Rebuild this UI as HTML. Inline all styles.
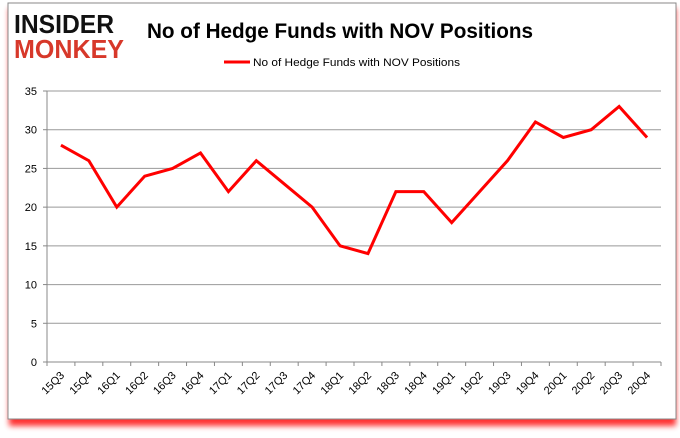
<!DOCTYPE html>
<html><head><meta charset="utf-8"><style>
body{margin:0;background:#fff;width:680px;height:433px;overflow:hidden;font-family:"Liberation Sans",sans-serif}
</style></head><body>
<svg width="680" height="433" xmlns="http://www.w3.org/2000/svg">
<defs><filter id="sh" x="-5%" y="-5%" width="110%" height="115%"><feGaussianBlur stdDeviation="3"/></filter></defs>
<rect x="9" y="8" width="667" height="418" fill="#f00" opacity="0.8" filter="url(#sh)"/>
<rect x="8" y="3" width="668" height="416" fill="#fff" stroke="#888" stroke-width="1"/>
<text x="14" y="33" font-family="Liberation Sans,sans-serif" font-weight="bold" font-size="26" fill="#111" textLength="100" lengthAdjust="spacingAndGlyphs">INSIDER</text>
<text x="14" y="58" font-family="Liberation Sans,sans-serif" font-weight="bold" font-size="26" fill="#d7382a" textLength="110" lengthAdjust="spacingAndGlyphs">MONKEY</text>
<text x="147" y="38" font-weight="bold" font-size="21" fill="#000" textLength="386" lengthAdjust="spacingAndGlyphs">No of Hedge Funds with NOV Positions</text>
<line x1="224" y1="62" x2="250" y2="62" stroke="#f00" stroke-width="3"/>
<text x="253" y="66" font-size="11" fill="#000" textLength="207" lengthAdjust="spacingAndGlyphs">No of Hedge Funds with NOV Positions</text>
<g id="g"></g>
</svg>
<script>
const categories=["15Q3","15Q4","16Q1","16Q2","16Q3","16Q4","17Q1","17Q2","17Q3","17Q4","18Q1","18Q2","18Q3","18Q4","19Q1","19Q2","19Q3","19Q4","20Q1","20Q2","20Q3","20Q4"];
const values=[28,26,20,24,25,27,22,26,23,20,15,14,22,22,18,22,26,31,29,30,33,29];
const yTicks=[0,5,10,15,20,25,30,35];
const L=47,R=661,T=91,B=362,yMax=35;
const ns="http://www.w3.org/2000/svg",g=document.getElementById('g');
const bw=(R-L)/categories.length;
const X=i=>L+bw*(i+0.5), Y=v=>B-(v/yMax)*(B-T);
function mk(t,a){const e=document.createElementNS(ns,t);for(const k in a)e.setAttribute(k,a[k]);g.appendChild(e);return e;}
yTicks.forEach(v=>{
 const l=mk('line',{x1:L,x2:R,y1:Y(v),y2:Y(v),stroke:v===0?'#888':'#999','stroke-width':1});
 
 
 const tk=mk('line',{x1:L-4,x2:L,y1:Y(v),y2:Y(v),stroke:'#888'});
 
 
 const t=mk('text',{x:L-10,y:Y(v)+4,'text-anchor':'end','font-size':11,fill:'#000'});
 t.textContent=v;
 
 
});
const ax=mk('line',{x1:L,x2:L,y1:T,y2:B,stroke:'#888'});


for(let i=0;i<=categories.length;i++){
 const tk=mk('line',{x1:L+bw*i,x2:L+bw*i,y1:B,y2:B+4,stroke:'#888'});
 
 
}
categories.forEach((c,i)=>{
 const x=X(i)+4,y=B+14;
 const t=mk('text',{x:x,y:y,'text-anchor':'end','font-size':11,fill:'#000',transform:`rotate(-45 ${x} ${y})`});
 t.textContent=c;
 
 
});
const p=mk('polyline',{points:values.map((v,i)=>X(i)+','+Y(v)).join(' '),fill:'none',stroke:'#f00','stroke-width':3,'stroke-linejoin':'miter'});


</script>
</body></html>
